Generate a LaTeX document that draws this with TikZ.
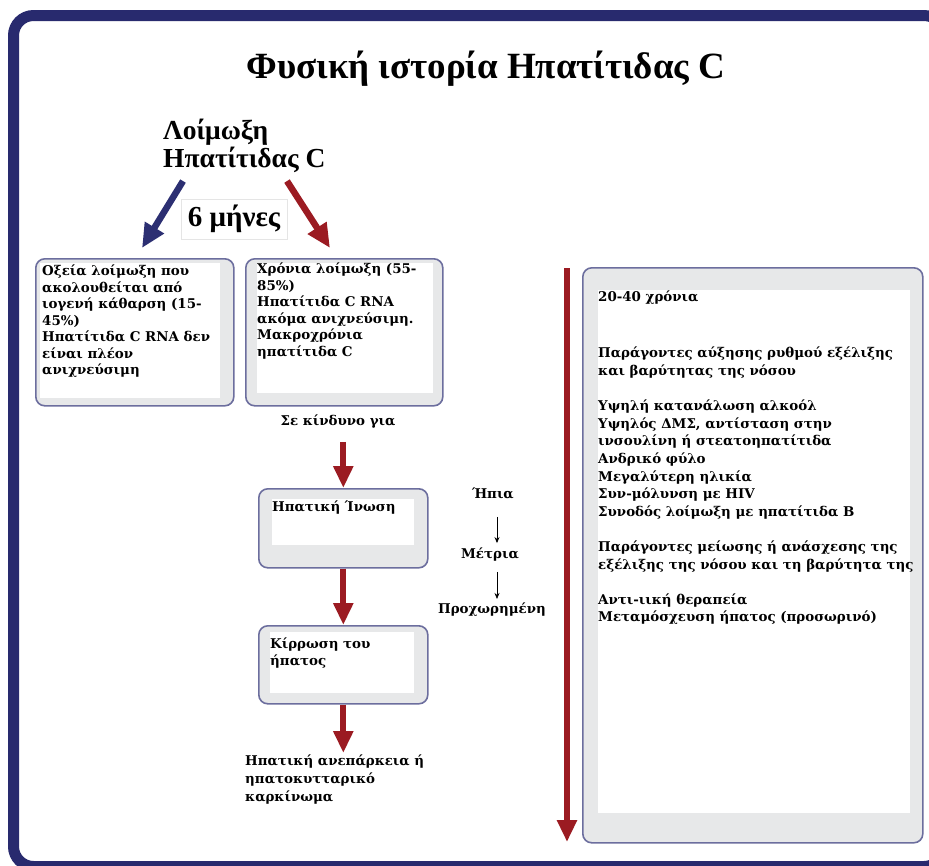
\documentclass[tikz,border=0pt]{standalone}
\usepackage{fontspec}
\setmainfont{DejaVu Serif}
\newfontfamily\titlefont{Liberation Serif}
\usetikzlibrary{arrows.meta}
\definecolor{navy}{HTML}{282A6E}
\definecolor{boxedge}{HTML}{6C6E9E}
\definecolor{boxfill}{HTML}{E7E8E9}
\definecolor{darkred}{HTML}{9B1B22}
\definecolor{bluearrow}{HTML}{2C2F72}
\tikzset{
  panel/.style={draw=boxedge, line width=1.6pt, fill=boxfill, rounded corners=9pt, inner sep=0pt, anchor=north west},
  btext/.style={font=\bfseries\fontsize{13.4}{16.5}\selectfont, align=left, anchor=north west, inner sep=0pt, text=black},
  ctext/.style={font=\bfseries\fontsize{13.4}{16.5}\selectfont, inner sep=0pt, text=black},
  redarr/.style={draw=darkred, line width=6pt, -{Triangle[width=19pt,length=22pt]}},
  bluearr/.style={draw=bluearrow, line width=6.5pt, -{Triangle[width=21pt,length=24pt]}},
  diagred/.style={draw=darkred, line width=6.5pt, -{Triangle[width=21pt,length=24pt]}},
  thinarr/.style={draw=black, line width=0.8pt, -{Stealth[length=6pt,width=5pt]}},
}
\begin{document}
\begin{tikzpicture}[x=1pt,y=-1pt]
\useasboundingbox (0,0) rectangle (929,865);
\fill[white] (0,0) rectangle (929,865);
% outer frame
\begin{scope}
\clip (0,0) rectangle (929,865);
\draw[navy, line width=11pt, rounded corners=20pt] (13.5,15.5) rectangle (944,866.5);
\end{scope}
% title
\node[font=\titlefont\bfseries\fontsize{37}{42}\selectfont, inner sep=0pt] (title) at (486,69) {Φυσική ιστορία Ηπατίτιδας C};
% infection
\node[font=\titlefont\bfseries\fontsize{27.5}{28}\selectfont, align=left, anchor=north west, inner sep=0pt] (loim) at (163,119) {Λοίμωξη\\Ηπατίτιδας C};
\node[font=\titlefont\bfseries\fontsize{29}{30}\selectfont, draw=gray!20, fill=white, inner xsep=7pt, inner ysep=6pt] (months) at (234,219) {6 μήνες};
% boxes
\node[panel, minimum width=198pt, minimum height=147pt] (b1) at (35,258) {};
\fill[white] (40,263) rectangle (220,398);
\node[panel, minimum width=197pt, minimum height=147pt] (b2) at (245,258) {};
\fill[white] (257,263) rectangle (433,393);
\node[panel, minimum width=169pt, minimum height=79pt] (b3) at (258,488) {};
\fill[white] (272,499) rectangle (414,545);
\node[panel, minimum width=169pt, minimum height=78pt] (b4) at (258,625) {};
\fill[white] (270,632) rectangle (414,693);
\node[panel, minimum width=340pt, minimum height=575pt] (b5) at (582,267) {};
\fill[white] (598,290) rectangle (910,813);
% box texts
\node[btext] (t1) at (42,265) {Οξεία λοίμωξη που\\ακολουθείται από\\ιογενή κάθαρση (15-\\45\%)\\Ηπατίτιδα C RNA δεν\\είναι πλέον\\ανιχνεύσιμη};
\node[btext] (t2) at (257,263) {Χρόνια λοίμωξη (55-\\85\%)\\Ηπατίτιδα C RNA\\ακόμα ανιχνεύσιμη.\\Μακροχρόνια\\ηπατίτιδα C};
\node[btext] (t3) at (272,501) {Ηπατική Ίνωση};
\node[btext] (t4) at (270,638) {Κίρρωση του\\ήπατος};
\node[btext, font=\bfseries\fontsize{13.4}{17.6}\selectfont] (t5) at (598,291) {20-40 χρόνια\\[38.4pt]
Παράγοντες αύξησης ρυθμού εξέλιξης\\και βαρύτητας της νόσου\\[17.6pt]
Υψηλή κατανάλωση αλκοόλ\\Υψηλός ΔΜΣ, αντίσταση στην\\ινσουλίνη ή στεατοηπατίτιδα\\Ανδρικό φύλο\\Μεγαλύτερη ηλικία\\Συν-μόλυνση με HIV\\Συνοδός λοίμωξη με ηπατίτιδα B\\[17.6pt]
Παράγοντες μείωσης ή ανάσχεσης της\\εξέλιξης της νόσου και τη βαρύτητα της\\[17.6pt]
Αντι-ιική θεραπεία\\Μεταμόσχευση ήπατος (προσωρινό)};
% free labels
\node[ctext] (risk) at (338,422) {Σε κίνδυνο για};
\node[btext, font=\bfseries\fontsize{13.4}{18}\selectfont] (fail) at (245,755) {Ηπατική ανεπάρκεια ή\\ηπατοκυτταρικό\\καρκίνωμα};
\node[ctext] (hpia) at (493,493) {Ήπια};
\node[ctext] (metria) at (490,555) {Μέτρια};
\node[ctext] (prox) at (492,610) {Προχωρημένη};
% arrows
\draw[bluearr] ([xshift=20pt,yshift=-8pt]loim.south west) -- ([xshift=107pt,yshift=10pt]b1.north west);
\draw[diagred] ([xshift=124pt,yshift=-8pt]loim.south west) -- ([xshift=85pt,yshift=10pt]b2.north west);
\draw[redarr] ([yshift=-13pt]b3.north |- risk.south) -- (b3.north);
\draw[redarr] (b3.south) -- (b4.north);
\draw[redarr] (b4.south) -- ([yshift=2pt]b4.south |- fail.north);
\coordinate (tltop) at (567,268);
\coordinate (tlbot) at (567,842);
\draw[redarr] (tltop) -- (tlbot);
\draw[thinarr] ([xshift=4pt,yshift=-18pt]hpia.south) -- ([xshift=4pt,yshift=5pt]hpia.south |- metria.north);
\draw[thinarr] ([xshift=7pt,yshift=-10pt]metria.south) -- ([xshift=7pt,yshift=4pt]metria.south |- prox.north);
\end{tikzpicture}
\end{document}
